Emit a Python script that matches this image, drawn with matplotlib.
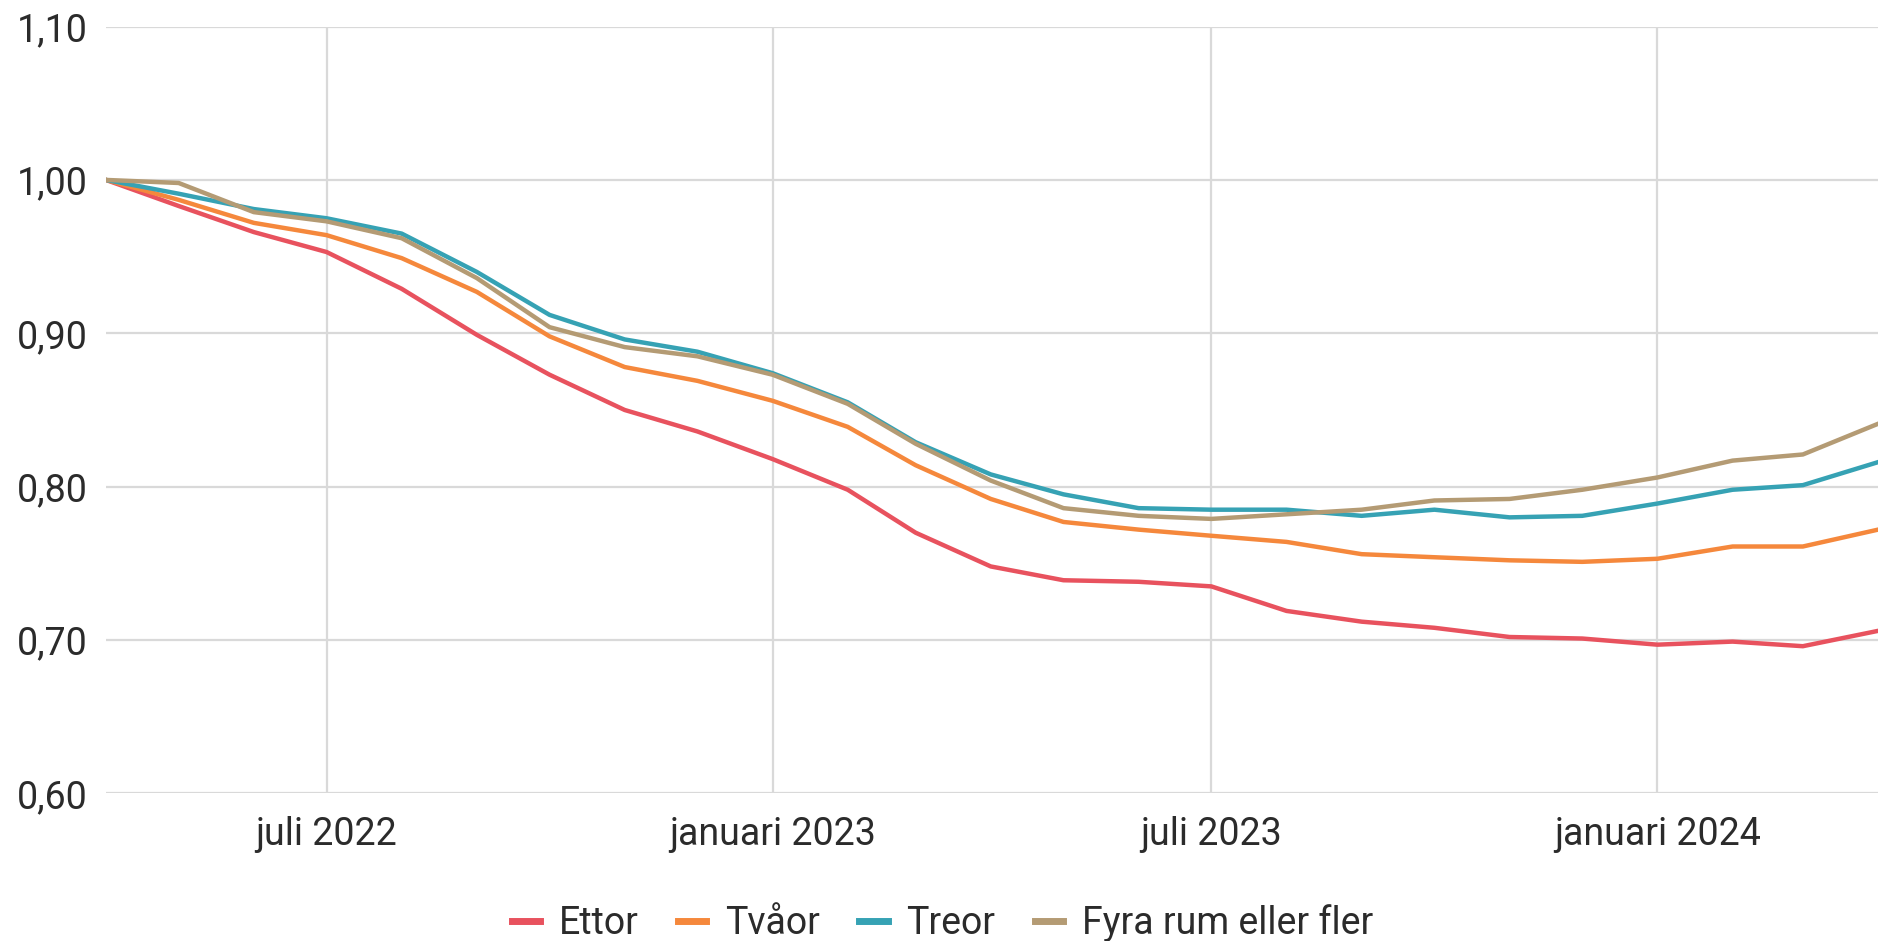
import matplotlib.pyplot as plt
from matplotlib.ticker import FuncFormatter
import pandas as pd

# monthly index, april 2022 = 1.00
months = pd.date_range("2022-04-01", "2024-04-01", freq="MS")

ettor = [1.000, 0.983, 0.966, 0.953, 0.929, 0.899, 0.873, 0.850, 0.836, 0.818,
         0.798, 0.770, 0.748, 0.739, 0.738, 0.735, 0.719, 0.712, 0.708, 0.702,
         0.701, 0.697, 0.699, 0.696, 0.706]
tvaor = [1.000, 0.987, 0.972, 0.964, 0.949, 0.927, 0.898, 0.878, 0.869, 0.856,
         0.839, 0.814, 0.792, 0.777, 0.772, 0.768, 0.764, 0.756, 0.754, 0.752,
         0.751, 0.753, 0.761, 0.761, 0.772]
treor = [1.000, 0.991, 0.981, 0.975, 0.965, 0.940, 0.912, 0.896, 0.888, 0.874,
         0.855, 0.829, 0.808, 0.795, 0.786, 0.785, 0.785, 0.781, 0.785, 0.780,
         0.781, 0.789, 0.798, 0.801, 0.816]
fyra = [1.000, 0.998, 0.979, 0.973, 0.962, 0.936, 0.904, 0.891, 0.885, 0.873,
        0.854, 0.828, 0.804, 0.786, 0.781, 0.779, 0.782, 0.785, 0.791, 0.792,
        0.798, 0.806, 0.817, 0.821, 0.841]

series = [
    ("Ettor", ettor, "#e8525e"),
    ("Tvåor", tvaor, "#f5883c"),
    ("Treor", treor, "#36a2b4"),
    ("Fyra rum eller fler", fyra, "#b49b74"),
]

x_ticks = pd.to_datetime(["2022-07-01", "2023-01-01", "2023-07-01", "2024-01-01"])
x_labels = ["juli 2022", "januari 2023", "juli 2023", "januari 2024"]
y_ticks = [0.60, 0.70, 0.80, 0.90, 1.00, 1.10]

plt.rcParams["font.family"] = ["Roboto", "DejaVu Sans"]

fig = plt.figure(figsize=(18.85, 9.41), dpi=100)
ax = fig.add_axes([0.0562, 0.1568, 0.9401, 0.815])

for name, vals, color in series:
    ax.plot(months, vals, color=color, lw=3.2, label=name, solid_joinstyle="round")

ax.set_xlim(months[0], months[-1])
ax.set_ylim(0.60, 1.10)
ax.set_yticks(y_ticks)
ax.yaxis.set_major_formatter(FuncFormatter(lambda v, _: f"{v:.2f}".replace(".", ",")))
ax.set_xticks(x_ticks)
ax.set_xticklabels(x_labels)

ax.grid(True, color="#d9d9d9", lw=1.6)
ax.set_axisbelow(True)
for s in ax.spines.values():
    s.set_visible(False)
ax.tick_params(axis="both", length=0, labelsize=27, colors="#2b2b2b")
ax.tick_params(axis="y", pad=13)
ax.tick_params(axis="x", pad=16)

leg = fig.legend(loc="center", bbox_to_anchor=(0.5, 0.019), ncol=4, frameon=False,
                 fontsize=27, handlelength=0.75, handletextpad=0.5, columnspacing=1.05)
for line in leg.get_lines():
    line.set_linewidth(5)
for t in leg.get_texts():
    t.set_color("#2b2b2b")

fig.savefig("out.png", dpi=100, facecolor="white")
